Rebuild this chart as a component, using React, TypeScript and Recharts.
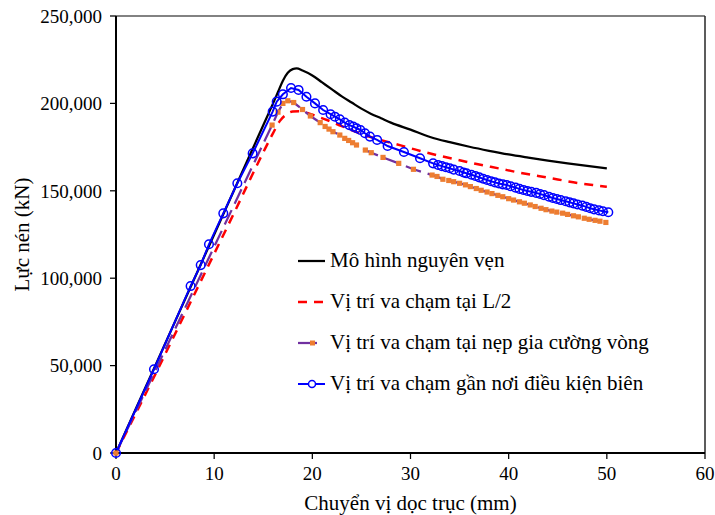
import React from "react";
import { LineChart, Line, XAxis, YAxis, Legend, ReferenceLine } from "recharts";

const FONT = "'Liberation Serif', 'DejaVu Serif', serif";

// tick labels
const xMajorTicks = [0, 10, 20, 30, 40, 50, 60];
const xMinorTicks = [0, 2, 4, 6, 8, 10, 12, 14, 16, 18, 20, 22, 24, 26, 28, 30, 32, 34, 36, 38, 40, 42, 44, 46, 48, 50, 52, 54, 56, 58, 60];
const yMajorTicks = [0, 50000, 100000, 150000, 200000, 250000];
const yMinorTicks = [0, 10000, 20000, 30000, 40000, 50000, 60000, 70000, 80000, 90000, 100000, 110000, 120000, 130000, 140000, 150000, 160000, 170000, 180000, 190000, 200000, 210000, 220000, 230000, 240000, 250000];

// Mô hình nguyên vẹn
const intactX = [0, 4, 8, 12, 15, 16, 16.5, 17, 17.5, 18, 18.4, 19, 20, 21, 22, 23, 24, 25, 26, 27, 28, 30, 32, 34, 36, 38, 40, 42, 44, 46, 48, 50];
const intactY = [0, 50000, 100000, 150000, 187500, 200000, 206500, 213000, 217500, 219600, 220000, 218800, 216000, 212000, 208000, 204000, 200500, 197000, 194000, 191500, 189000, 185000, 180800, 177800, 175200, 172900, 170800, 169000, 167300, 165700, 164200, 162800];

// Vị trí va chạm tại L/2
const midX = [0, 4, 8, 12, 15, 16, 16.7, 17.3, 18, 18.7, 19.5, 20.5, 21.5, 23, 25, 27, 29, 31, 33, 35, 37, 39, 41, 43, 45, 47, 49, 50];
const midY = [0, 45000, 91000, 137000, 172000, 183000, 190000, 193500, 195300, 195500, 194500, 192500, 190500, 187000, 182500, 179000, 176000, 172800, 170000, 167500, 165000, 162800, 160500, 158500, 156500, 154500, 153000, 152300];

// Vị trí va chạm tại nẹp gia cường vòng
const ringX = [0, 15.9, 16.5, 17.0, 17.5, 18.1, 19.0, 19.8, 20.8, 21.3, 21.7, 22.1, 22.8, 23.3, 23.7, 24.1, 24.5, 25.4, 26.0, 27.2, 28.8, 30.3, 32.2, 32.7, 33.3, 33.9, 34.4, 35.0, 35.6, 36.1, 36.7, 37.2, 37.8, 38.3, 38.9, 39.4, 40.0, 40.5, 41.1, 41.6, 42.2, 42.7, 43.3, 43.8, 44.4, 44.9, 45.5, 46.0, 46.6, 47.1, 47.7, 48.2, 48.8, 49.3, 49.9];
const ringY = [0, 187600, 195000, 200000, 201500, 200500, 196500, 192800, 189000, 186800, 185300, 183800, 181900, 180000, 178800, 177500, 176200, 173300, 171800, 169100, 165700, 162300, 159000, 158200, 156600, 155900, 155200, 154300, 153400, 152400, 151300, 150300, 149300, 148400, 147400, 146600, 145500, 144700, 143700, 142900, 141900, 141000, 140000, 139200, 138400, 137800, 137200, 136500, 135700, 135100, 134300, 133700, 133100, 132600, 131900];

// Vị trí va chạm gần nơi điều kiện biên
const edgeX = [0, 3.87, 7.6, 8.63, 9.47, 10.93, 12.36, 13.92, 15.96, 16.37, 17.0, 17.83, 18.6, 19.4, 20.27, 21.1, 21.86, 22.3, 22.8, 23.3, 23.77, 24.17, 24.5, 24.9, 25.36, 25.87, 26.6, 27.67, 29.33, 30.97, 32.3, 32.8, 33.2, 33.6, 34.0, 34.4, 35.0, 35.4, 35.7, 36.2, 36.6, 37.0, 37.4, 37.8, 38.2, 38.6, 39.0, 39.4, 39.8, 40.2, 40.7, 41.1, 41.5, 41.9, 42.3, 42.8, 43.2, 43.6, 44.1, 44.5, 44.9, 45.3, 45.8, 46.2, 46.6, 47.0, 47.5, 47.9, 48.3, 48.7, 49.2, 49.6, 50.15];
const edgeY = [0, 47900, 95500, 107500, 119400, 137100, 154300, 171400, 195300, 201000, 205200, 208800, 207700, 203800, 200000, 196200, 193800, 192400, 190900, 189000, 187600, 186700, 185800, 184800, 182900, 181000, 179100, 175600, 172200, 168600, 165700, 164800, 164100, 163500, 162900, 162100, 161300, 160500, 160000, 159200, 158500, 157700, 156900, 156200, 155500, 154800, 154200, 153700, 153300, 152600, 151800, 151100, 150500, 149900, 149400, 148800, 148200, 147500, 146600, 145900, 145300, 144700, 144000, 143400, 142800, 142200, 141500, 140800, 140000, 139400, 138800, 138300, 137700];

const zip = (xs: number[], ys: number[]) => xs.map((x, i) => ({ x, y: ys[i] }));

const intactData = zip(intactX, intactY);
const midData = zip(midX, midY);
const ringData = zip(ringX, ringY);
const edgeData = zip(edgeX, edgeY);

const legendItems = [
  { name: "Mô hình nguyên vẹn", kind: "solid" },
  { name: "Vị trí va chạm tại L/2", kind: "dash" },
  { name: "Vị trí va chạm tại nẹp gia cường vòng", kind: "ring" },
  { name: "Vị trí va chạm gần nơi điều kiện biên", kind: "circle" },
];

function Sample({ kind }: { kind: string }) {
  return (
    <svg width={30} height={14} style={{ display: "block" }}>
      {kind === "solid" && <line x1={2} y1={7} x2={29} y2={7} stroke="#000" strokeWidth={2.25} />}
      {kind === "dash" && <line x1={2} y1={7} x2={29} y2={7} stroke="#ff0000" strokeWidth={2.5} strokeDasharray="9 7" />}
      {kind === "ring" && (
        <g>
          <line x1={2} y1={7} x2={21} y2={7} stroke="#7030a0" strokeWidth={2.25} />
          <rect x={14} y={4.5} width={5} height={5} fill="#ed7d31" />
        </g>
      )}
      {kind === "circle" && (
        <g>
          <line x1={2} y1={7} x2={29} y2={7} stroke="#0000ff" strokeWidth={2} />
          <circle cx={16} cy={7} r={3.5} fill="#fff" stroke="#0000ff" strokeWidth={1.5} />
        </g>
      )}
    </svg>
  );
}

function LegendBox() {
  return (
    <div style={{ fontFamily: FONT, fontSize: 21, color: "#000" }}>
      {legendItems.map((it) => (
        <div key={it.name} style={{ display: "flex", alignItems: "center", height: 41 }}>
          <Sample kind={it.kind} />
          <span style={{ marginLeft: 4, whiteSpace: "nowrap" }}>{it.name}</span>
        </div>
      ))}
    </div>
  );
}

const SquareDot = (props: any) => {
  const { cx, cy, index } = props;
  if (cx == null || cy == null) return <g key={index} />;
  return <rect key={index} x={cx - 2.6} y={cy - 2.6} width={5.2} height={5.2} fill="#ed7d31" />;
};

const tickStyle = { fontFamily: FONT, fontSize: 19, fill: "#000" };

export default function App() {
  return (
    <div style={{ position: "absolute", left: 0, top: 0, background: "#fff" }}>
      <LineChart width={715} height={515} margin={{ top: 16, right: 10, left: 0, bottom: 0 }}>
        {/* minor ticks pointing inward */}
        <XAxis
          xAxisId="minor"
          type="number"
          dataKey="x"
          domain={[0, 60]}
          ticks={xMinorTicks}
          mirror
          height={0}
          tickSize={5}
          axisLine={false}
          tickLine={{ stroke: "#000", strokeWidth: 1.25 }}
          tickFormatter={() => ""}
        />
        <XAxis
          xAxisId="main"
          type="number"
          dataKey="x"
          domain={[0, 60]}
          ticks={xMajorTicks}
          height={62}
          tickSize={6}
          tickMargin={8}
          interval={0}
          axisLine={{ stroke: "#000", strokeWidth: 2 }}
          tickLine={{ stroke: "#000", strokeWidth: 1.25 }}
          tick={tickStyle}
          label={{
            value: "Chuyển vị dọc trục (mm)",
            position: "insideBottom",
            offset: 5,
            style: { fontFamily: FONT, fontSize: 21, fill: "#000" },
          }}
        />
        <YAxis
          yAxisId="minor"
          type="number"
          domain={[0, 250000]}
          ticks={yMinorTicks}
          mirror
          width={0}
          tickSize={5}
          axisLine={false}
          tickLine={{ stroke: "#000", strokeWidth: 1.25 }}
          tickFormatter={() => ""}
        />
        <YAxis
          yAxisId="main"
          type="number"
          domain={[0, 250000]}
          ticks={yMajorTicks}
          width={116}
          tickSize={6}
          tickMargin={8}
          interval={0}
          axisLine={{ stroke: "#000", strokeWidth: 2 }}
          tickLine={{ stroke: "#000", strokeWidth: 1.25 }}
          tick={tickStyle}
          tickFormatter={(v: number) => v.toLocaleString("en-US")}
          label={{
            value: "Lực nén (kN)",
            angle: -90,
            position: "insideLeft",
            offset: 22,
            style: { fontFamily: FONT, fontSize: 21, fill: "#000", textAnchor: "middle" },
          }}
        />

        <ReferenceLine xAxisId="main" yAxisId="main" y={250000} stroke="#595959" strokeWidth={1.5} />
        <ReferenceLine xAxisId="main" yAxisId="main" x={60} stroke="#262626" strokeWidth={1.5} />

        <Legend
          layout="horizontal"
          verticalAlign="middle"
          align="center"
          wrapperStyle={{ left: 296, top: 240, width: 420 }}
          content={() => <LegendBox />}
        />

        <Line
          xAxisId="main"
          yAxisId="main"
          data={intactData}
          dataKey="y"
          name="Mô hình nguyên vẹn"
          type="monotone"
          stroke="#000"
          strokeWidth={2.25}
          dot={false}
          isAnimationActive={false}
        />
        <Line
          xAxisId="main"
          yAxisId="main"
          data={midData}
          dataKey="y"
          name="Vị trí va chạm tại L/2"
          type="monotone"
          stroke="#ff0000"
          strokeWidth={2.5}
          strokeDasharray="9 7"
          dot={false}
          isAnimationActive={false}
        />
        <Line
          xAxisId="main"
          yAxisId="main"
          data={ringData}
          dataKey="y"
          name="Vị trí va chạm tại nẹp gia cường vòng"
          type="linear"
          stroke="#7030a0"
          strokeWidth={2.25}
          strokeDasharray="16 7"
          dot={SquareDot}
          isAnimationActive={false}
        />
        <Line
          xAxisId="main"
          yAxisId="main"
          data={edgeData}
          dataKey="y"
          name="Vị trí va chạm gần nơi điều kiện biên"
          type="linear"
          stroke="#0000ff"
          strokeWidth={2}
          dot={{ r: 4.3, stroke: "#0000ff", strokeWidth: 1.5, fill: "none" }}
          isAnimationActive={false}
        />
      </LineChart>
    </div>
  );
}
